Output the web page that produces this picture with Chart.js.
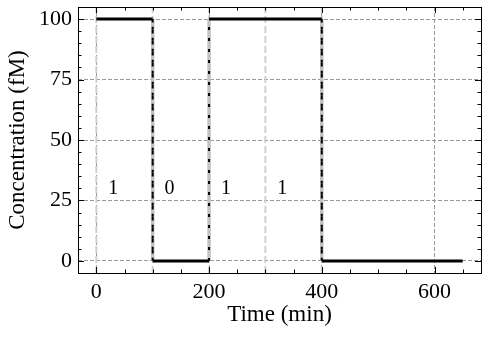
<!DOCTYPE html>
<html>
<head>
<meta charset="utf-8">
<script src="https://cdn.jsdelivr.net/npm/chart.js@4/dist/chart.umd.min.js"></script>
<style>
  html, body { margin:0; padding:0; background:#fff; }
  #wrap { width:489px; height:338px; }
</style>
</head>
<body>
<div id="wrap"><canvas id="c" width="489" height="338"></canvas></div>
<script>
// ── data ──
const stepTimes  = [0, 100, 100, 200, 200, 400, 400, 650];
const stepLevels = [100, 100, 0, 0, 100, 100, 0, 0];
const bitStarts  = [0, 100, 200, 300];
const bitLabels  = ['1', '0', '1', '1'];
const bitEdges   = [0, 100, 200, 300, 400];
const labelDx = 30, labelLevel = 30;
const xTicks = [0, 200, 400, 600];
const yTicks = [0, 25, 50, 75, 100];
const xMin = -32.5, xMax = 682.5, yMin = -5, yMax = 105;
const xMinorStep = 50, yMinorStep = 5;

const SERIF = '"Liberation Serif", "DejaVu Serif", serif';

const stepData = stepTimes.map((t, i) => ({ x: t, y: stepLevels[i] }));
const edgeData = [];
bitEdges.forEach(e => { edgeData.push({x:e, y:yMin}, {x:e, y:yMax}, {x:e, y:null}); });
const isVert = ctx => ctx.p0.parsed.x === ctx.p1.parsed.x;

// inward ticks on all sides, box, bit labels
const decor = {
  id: 'decor',
  afterDatasetsDraw(chart) {
    const {ctx, scales: {x, y}} = chart;
    ctx.save();
    ctx.fillStyle = '#000';
    ctx.font = '20px ' + SERIF;
    ctx.textAlign = 'center'; ctx.textBaseline = 'middle';
    bitStarts.forEach((s, i) => ctx.fillText(bitLabels[i], x.getPixelForValue(s + labelDx), y.getPixelForValue(labelLevel)));
    ctx.restore();
  },
  afterDraw(chart) {
    const {ctx, chartArea: a, scales: {x, y}} = chart;
    ctx.save();
    ctx.strokeStyle = '#000'; ctx.lineWidth = 1;
    const px = v => Math.round(x.getPixelForValue(v)) + 0.5;
    const py = v => Math.round(y.getPixelForValue(v)) + 0.5;
    ctx.beginPath();
    for (let v = Math.ceil(xMin / xMinorStep) * xMinorStep; v <= xMax; v += xMinorStep) {
      const L = xTicks.includes(v) ? 6 : 3.5, p = px(v);
      ctx.moveTo(p, a.bottom); ctx.lineTo(p, a.bottom - L);
      ctx.moveTo(p, a.top);    ctx.lineTo(p, a.top + L);
    }
    for (let v = Math.ceil(yMin / yMinorStep) * yMinorStep; v <= yMax; v += yMinorStep) {
      const L = yTicks.includes(v) ? 6 : 3.5, p = py(v);
      ctx.moveTo(a.left, p);  ctx.lineTo(a.left + L, p);
      ctx.moveTo(a.right, p); ctx.lineTo(a.right - L, p);
    }
    ctx.stroke();
    ctx.strokeRect(Math.round(a.left) + 0.5, Math.round(a.top) + 0.5, Math.round(a.right - a.left), Math.round(a.bottom - a.top));
    ctx.restore();
  }
};

const gridOpts = { color:'#9a9a9a', lineWidth:1, drawTicks:false };

// dataset 0 is drawn on top
new Chart(document.getElementById('c'), {
  type: 'line',
  data: {
    datasets: [
      { data: stepData, borderColor:'#000', borderWidth:3, pointRadius:0, borderCapStyle:'butt',
        segment:{ borderDash: c => isVert(c) ? [3, 8] : [], borderWidth: c => isVert(c) ? 2 : 3 } },
      { data: stepData, borderColor:'transparent', borderWidth:3.5, pointRadius:0,
        segment:{ borderColor: c => isVert(c) ? '#c2c2c2' : 'transparent' } },
      { data: edgeData, borderColor:'#d0d0d0', borderWidth:2, borderDash:[7,3], pointRadius:0, spanGaps:false },
    ]
  },
  options: {
    responsive:false, animation:false, devicePixelRatio:1,
    layout:{ padding:{ top:7, right:8, left:0, bottom:0 } },
    plugins:{ legend:{display:false}, tooltip:{enabled:false} },
    elements:{ line:{ tension:0 } },
    scales:{
      x:{ type:'linear', min:xMin, max:xMax,
        afterBuildTicks: s => { s.ticks = xTicks.map(v => ({value:v})); },
        afterFit: s => { s.height = 65; s.paddingLeft = 0; s.paddingRight = 0; },
        grid: gridOpts, border:{ display:false, dash:[4,2] },
        ticks:{ color:'#000', padding:6, maxRotation:0, font:{ family:SERIF, size:22 } },
        title:{ display:true, text:'Time (min)', color:'#000', padding:{top:0, bottom:9}, font:{ family:SERIF, size:23, lineHeight:1.2 } } },
      y:{ type:'linear', min:yMin, max:yMax,
        afterBuildTicks: s => { s.ticks = yTicks.map(v => ({value:v})); },
        afterFit: s => { s.width = 78; s.paddingTop = 0; s.paddingBottom = 0; },
        grid: gridOpts, border:{ display:false, dash:[4,2] },
        ticks:{ color:'#000', padding:6, font:{ family:SERIF, size:22 } },
        title:{ display:true, text:'Concentration (fM)', color:'#000', padding:{top:4, bottom:0}, font:{ family:SERIF, size:23, lineHeight:1.2 } } }
    }
  },
  plugins:[decor]
});
</script>
</body>
</html>
